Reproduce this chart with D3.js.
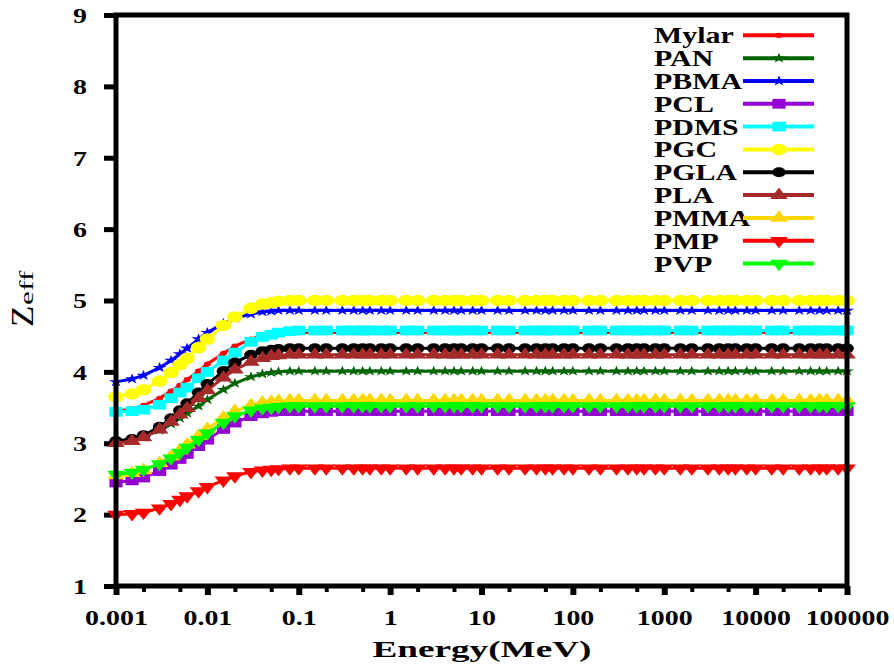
<!DOCTYPE html>
<html>
<head>
<meta charset="utf-8">
<script src="https://cdn.jsdelivr.net/npm/d3@7"></script>
<style>
  body { margin: 0; background: #fff; }
  text { font-family: "Liberation Serif", "Times New Roman", serif; }
</style>
</head>
<body>
<div id="chart"></div>
<script>
// photon energies (MeV), same grid for every polymer
const energy = [
  0.001, 0.0015, 0.002, 0.003, 0.004, 0.005, 0.006, 0.008,
  0.01, 0.015, 0.02, 0.03, 0.04, 0.05, 0.06, 0.08,
  0.1, 0.15, 0.2, 0.3, 0.4, 0.5, 0.6, 0.8,
  1, 1.5, 2, 3, 4, 5, 6, 8,
  10, 15, 20, 30, 40, 50, 60, 80,
  100, 150, 200, 300, 400, 500, 600, 800,
  1000, 1500, 2000, 3000, 4000, 5000, 6000, 8000,
  10000, 15000, 20000, 30000, 40000, 50000, 60000, 80000,
  100000
]

// Zeff values
const mylar = [
  3.45, 3.48, 3.53, 3.63, 3.73, 3.81, 3.89, 4.01,
  4.11, 4.26, 4.36, 4.46, 4.51, 4.53, 4.54, 4.55,
  4.55, 4.55, 4.55, 4.55, 4.55, 4.55, 4.55, 4.55,
  4.55, 4.55, 4.55, 4.55, 4.55, 4.55, 4.55, 4.55,
  4.55, 4.55, 4.55, 4.55, 4.55, 4.55, 4.55, 4.55,
  4.55, 4.55, 4.55, 4.55, 4.55, 4.55, 4.55, 4.55,
  4.55, 4.55, 4.55, 4.55, 4.55, 4.55, 4.55, 4.55,
  4.55, 4.55, 4.55, 4.55, 4.55, 4.55, 4.55, 4.55,
  4.55
]
const pan = [
  3.02, 3.05, 3.09, 3.18, 3.27, 3.35, 3.42, 3.52,
  3.61, 3.75, 3.84, 3.93, 3.97, 3.99, 4.00, 4.01,
  4.01, 4.01, 4.01, 4.01, 4.01, 4.01, 4.01, 4.01,
  4.01, 4.01, 4.01, 4.01, 4.01, 4.01, 4.01, 4.01,
  4.01, 4.01, 4.01, 4.01, 4.01, 4.01, 4.01, 4.01,
  4.01, 4.01, 4.01, 4.01, 4.01, 4.01, 4.01, 4.01,
  4.01, 4.01, 4.01, 4.01, 4.01, 4.01, 4.01, 4.01,
  4.01, 4.01, 4.01, 4.01, 4.01, 4.01, 4.01, 4.01,
  4.01
]
const pbma = [
  3.86, 3.90, 3.95, 4.06, 4.16, 4.25, 4.33, 4.46,
  4.55, 4.68, 4.75, 4.81, 4.84, 4.85, 4.86, 4.86,
  4.86, 4.86, 4.86, 4.86, 4.86, 4.86, 4.86, 4.86,
  4.86, 4.86, 4.86, 4.86, 4.86, 4.86, 4.86, 4.86,
  4.86, 4.86, 4.86, 4.86, 4.86, 4.86, 4.86, 4.86,
  4.86, 4.86, 4.86, 4.86, 4.86, 4.86, 4.86, 4.86,
  4.86, 4.86, 4.86, 4.86, 4.86, 4.86, 4.86, 4.86,
  4.86, 4.86, 4.86, 4.86, 4.86, 4.86, 4.86, 4.86,
  4.86
]
const pcl = [
  2.45, 2.48, 2.52, 2.61, 2.70, 2.78, 2.85, 2.96,
  3.05, 3.20, 3.29, 3.38, 3.42, 3.44, 3.45, 3.45,
  3.45, 3.45, 3.45, 3.45, 3.45, 3.45, 3.45, 3.45,
  3.45, 3.45, 3.45, 3.45, 3.45, 3.45, 3.45, 3.45,
  3.45, 3.45, 3.45, 3.45, 3.45, 3.45, 3.45, 3.45,
  3.45, 3.45, 3.45, 3.45, 3.45, 3.45, 3.45, 3.45,
  3.45, 3.45, 3.45, 3.45, 3.45, 3.45, 3.45, 3.45,
  3.45, 3.45, 3.45, 3.45, 3.45, 3.45, 3.45, 3.45,
  3.45
]
const pdms = [
  3.44, 3.45, 3.47, 3.54, 3.63, 3.71, 3.78, 3.91,
  4.00, 4.16, 4.27, 4.42, 4.49, 4.52, 4.55, 4.57,
  4.58, 4.58, 4.58, 4.58, 4.58, 4.58, 4.58, 4.58,
  4.58, 4.58, 4.58, 4.58, 4.58, 4.58, 4.58, 4.58,
  4.58, 4.58, 4.58, 4.58, 4.58, 4.58, 4.58, 4.58,
  4.58, 4.58, 4.58, 4.58, 4.58, 4.58, 4.58, 4.58,
  4.58, 4.58, 4.58, 4.58, 4.58, 4.58, 4.58, 4.58,
  4.58, 4.58, 4.58, 4.58, 4.58, 4.58, 4.58, 4.58,
  4.58
]
const pgc = [
  3.65, 3.69, 3.75, 3.87, 3.99, 4.10, 4.19, 4.34,
  4.46, 4.65, 4.77, 4.89, 4.95, 4.97, 4.99, 5.00,
  5.00, 5.00, 5.00, 5.00, 5.00, 5.00, 5.00, 5.00,
  5.00, 5.00, 5.00, 5.00, 5.00, 5.00, 5.00, 5.00,
  5.00, 5.00, 5.00, 5.00, 5.00, 5.00, 5.00, 5.00,
  5.00, 5.00, 5.00, 5.00, 5.00, 5.00, 5.00, 5.00,
  5.00, 5.00, 5.00, 5.00, 5.00, 5.00, 5.00, 5.00,
  5.00, 5.00, 5.00, 5.00, 5.00, 5.00, 5.00, 5.00,
  5.00
]
const pgla = [
  3.03, 3.06, 3.11, 3.23, 3.35, 3.46, 3.56, 3.71,
  3.83, 4.01, 4.13, 4.24, 4.29, 4.31, 4.32, 4.33,
  4.33, 4.33, 4.33, 4.33, 4.33, 4.33, 4.33, 4.33,
  4.33, 4.33, 4.33, 4.33, 4.33, 4.33, 4.33, 4.33,
  4.33, 4.33, 4.33, 4.33, 4.33, 4.33, 4.33, 4.33,
  4.33, 4.33, 4.33, 4.33, 4.33, 4.33, 4.33, 4.33,
  4.33, 4.33, 4.33, 4.33, 4.33, 4.33, 4.33, 4.33,
  4.33, 4.33, 4.33, 4.33, 4.33, 4.33, 4.33, 4.33,
  4.33
]
const pla = [
  3.00, 3.03, 3.08, 3.19, 3.30, 3.40, 3.49, 3.63,
  3.74, 3.92, 4.03, 4.14, 4.19, 4.22, 4.23, 4.24,
  4.24, 4.24, 4.24, 4.24, 4.24, 4.24, 4.24, 4.24,
  4.24, 4.24, 4.24, 4.24, 4.24, 4.24, 4.24, 4.24,
  4.24, 4.24, 4.24, 4.24, 4.24, 4.24, 4.24, 4.24,
  4.24, 4.24, 4.24, 4.24, 4.24, 4.24, 4.24, 4.24,
  4.24, 4.24, 4.24, 4.24, 4.24, 4.24, 4.24, 4.24,
  4.24, 4.24, 4.24, 4.24, 4.24, 4.24, 4.24, 4.24,
  4.24
]
const pmma = [
  2.55, 2.58, 2.62, 2.72, 2.81, 2.90, 2.98, 3.10,
  3.20, 3.36, 3.45, 3.53, 3.57, 3.58, 3.59, 3.60,
  3.60, 3.60, 3.60, 3.60, 3.60, 3.60, 3.60, 3.60,
  3.60, 3.60, 3.60, 3.60, 3.60, 3.60, 3.60, 3.60,
  3.60, 3.60, 3.60, 3.60, 3.60, 3.60, 3.60, 3.60,
  3.60, 3.60, 3.60, 3.60, 3.60, 3.60, 3.60, 3.60,
  3.60, 3.60, 3.60, 3.60, 3.60, 3.60, 3.60, 3.60,
  3.60, 3.60, 3.60, 3.60, 3.60, 3.60, 3.60, 3.60,
  3.60
]
const pmp = [
  2.00, 2.01, 2.03, 2.09, 2.15, 2.21, 2.26, 2.33,
  2.39, 2.48, 2.54, 2.60, 2.62, 2.63, 2.64, 2.65,
  2.65, 2.65, 2.65, 2.65, 2.65, 2.65, 2.65, 2.65,
  2.65, 2.65, 2.65, 2.65, 2.65, 2.65, 2.65, 2.65,
  2.65, 2.65, 2.65, 2.65, 2.65, 2.65, 2.65, 2.65,
  2.65, 2.65, 2.65, 2.65, 2.65, 2.65, 2.65, 2.65,
  2.65, 2.65, 2.65, 2.65, 2.65, 2.65, 2.65, 2.65,
  2.65, 2.65, 2.65, 2.65, 2.65, 2.65, 2.65, 2.65,
  2.65
]
const pvp = [
  2.56, 2.59, 2.63, 2.71, 2.79, 2.87, 2.94, 3.05,
  3.14, 3.29, 3.38, 3.46, 3.49, 3.50, 3.51, 3.52,
  3.52, 3.52, 3.52, 3.52, 3.52, 3.52, 3.52, 3.52,
  3.52, 3.52, 3.52, 3.52, 3.52, 3.52, 3.52, 3.52,
  3.52, 3.52, 3.52, 3.52, 3.52, 3.52, 3.52, 3.52,
  3.52, 3.52, 3.52, 3.52, 3.52, 3.52, 3.52, 3.52,
  3.52, 3.52, 3.52, 3.52, 3.52, 3.52, 3.52, 3.52,
  3.52, 3.52, 3.52, 3.52, 3.52, 3.52, 3.52, 3.52,
  3.52
]

const names = ['Mylar', 'PAN', 'PBMA', 'PCL', 'PDMS', 'PGC', 'PGLA', 'PLA', 'PMMA', 'PMP', 'PVP']
const values = [mylar, pan, pbma, pcl, pdms, pgc, pgla, pla, pmma, pmp, pvp]
const colors = ['#ff0000', '#006400', '#0000ff', '#9400d3', '#00ffff', '#ffff00',
                '#000000', '#a52a2a', '#ffd700', '#ff0000', '#00ff00']

const xTicks = [0.001, 0.01, 0.1, 1, 10, 100, 1000, 10000, 100000]
const xTickLabels = ['0.001', '0.01', '0.1', '1', '10', '100', '1000', '10000', '100000']
const xMinorTicks = [0.002, 0.005, 0.02, 0.05, 0.2, 0.5, 2, 5, 20, 50, 200, 500, 2000, 5000, 20000, 50000]
const yTicks = [1, 2, 3, 4, 5, 6, 7, 8, 9]

// marker for every series: symbol type, area, flipped (triangle down)
const markers = [
  {type: d3.symbolCircle, size: 22, flip: false},
  {type: d3.symbolStar, size: 34, flip: false},
  {type: d3.symbolStar, size: 34, flip: false},
  {type: d3.symbolSquare, size: 95, flip: false},
  {type: d3.symbolSquare, size: 95, flip: false},
  {type: d3.symbolCircle, size: 105, flip: false},
  {type: d3.symbolCircle, size: 80, flip: false},
  {type: d3.symbolTriangle, size: 75, flip: false},
  {type: d3.symbolTriangle, size: 75, flip: false},
  {type: d3.symbolTriangle, size: 75, flip: true},
  {type: d3.symbolTriangle, size: 75, flip: true}
]

const width = 894, height = 667
const plot = {left: 116, right: 847, top: 15, bottom: 586}
const textStretch = 1.33
const markStretch = 1.35

let svg = d3.select('#chart').append('svg')
    .attr('width', width)
    .attr('height', height)

let x = d3.scaleLog().domain([0.001, 100000]).range([plot.left, plot.right])
let y = d3.scaleLinear().domain([1, 9]).range([plot.bottom, plot.top])

// minor ticks on the energy axis
let gxMinor = svg.append('g')
    .attr('transform', 'translate(0,' + plot.bottom + ')')
    .call(d3.axisBottom(x).tickValues(xMinorTicks).tickSize(6).tickSizeOuter(0).tickFormat(''))
gxMinor.select('.domain').remove()
gxMinor.selectAll('.tick line').attr('stroke-width', 4)

// major ticks + labels
let gx = svg.append('g')
    .attr('transform', 'translate(0,' + plot.bottom + ')')
    .call(d3.axisBottom(x).tickValues(xTicks).tickSize(9).tickSizeOuter(0)
        .tickFormat((d, i) => xTickLabels[i]))
gx.attr('font-size', 21).attr('font-family', null).attr('font-weight', 'bold')
gx.select('.domain').remove()
gx.selectAll('.tick line').attr('stroke-width', 6)
gx.selectAll('.tick text')
    .attr('y', null)
    .attr('dy', null)
    .attr('transform', 'translate(0,39) scale(' + textStretch + ',1)')

let gy = svg.append('g')
    .attr('transform', 'translate(' + plot.left + ',0)')
    .call(d3.axisLeft(y).tickValues(yTicks).tickSize(12).tickSizeOuter(0).tickFormat(d3.format('d')))
gy.attr('font-size', 21).attr('font-family', null).attr('font-weight', 'bold')
gy.select('.domain').remove()
gy.selectAll('.tick line').attr('stroke-width', 5)
gy.selectAll('.tick text')
    .attr('x', null)
    .attr('dy', '0.35em')
    .attr('transform', 'translate(-29,0) scale(' + textStretch + ',1)')

// curves
let line = d3.line()
    .x(d => x(d[0]))
    .y(d => y(d[1]))

names.forEach((name, i) => {
    let pts = energy.map((e, j) => [e, values[i][j]])
    let m = markers[i]
    let sym = d3.symbol().type(m.type).size(m.size)

    let g = svg.append('g').attr('class', 'series')
    g.append('path')
        .attr('d', line(pts))
        .attr('fill', 'none')
        .attr('stroke', colors[i])
        .attr('stroke-width', 3)

    g.selectAll('path.mark')
        .data(pts)
        .enter().append('path')
        .attr('class', 'mark')
        .attr('d', sym)
        .attr('fill', colors[i])
        .attr('transform', d => 'translate(' + x(d[0]) + ',' + y(d[1]) + ') scale(' + markStretch + ',' + (m.flip ? -1 : 1) + ')')
})

// frame drawn on top
svg.append('rect')
    .attr('x', plot.left)
    .attr('y', plot.top)
    .attr('width', plot.right - plot.left)
    .attr('height', plot.bottom - plot.top)
    .attr('fill', 'none')
    .attr('stroke', '#000')
    .attr('stroke-width', 5)

// legend
let legend = svg.append('g').attr('class', 'legend')
names.forEach((name, i) => {
    let row = legend.append('g').attr('transform', 'translate(0,' + (35.3 + i * 22.83) + ')')
    row.append('text')
        .attr('transform', 'translate(654,8) scale(' + textStretch + ',1)')
        .attr('font-size', 22.5)
        .attr('font-weight', 'bold')
        .text(name)
    row.append('line')
        .attr('x1', 743).attr('x2', 814)
        .attr('stroke', colors[i])
        .attr('stroke-width', 4)
    let m = markers[i]
    row.append('path')
        .attr('d', d3.symbol().type(m.type).size(m.size)())
        .attr('fill', colors[i])
        .attr('transform', 'translate(779,0) scale(' + markStretch + ',' + (m.flip ? -1 : 1) + ')')
})

// axis titles
svg.append('text')
    .attr('transform', 'translate(482,657) scale(1.55,1)')
    .attr('text-anchor', 'middle')
    .attr('font-size', 24)
    .attr('font-weight', 'bold')
    .text('Energy(MeV)')

// Z with a stretched "eff" subscript, reading bottom to top
let ylab = svg.append('g').attr('transform', 'translate(33,327) rotate(-90)')
ylab.append('text')
    .attr('transform', 'scale(1.1,1)')
    .attr('font-size', 32)
    .text('Z')
ylab.append('text')
    .attr('transform', 'translate(22,0) scale(1.65,1)')
    .attr('font-size', 19)
    .text('eff')
</script>
</body>
</html>
